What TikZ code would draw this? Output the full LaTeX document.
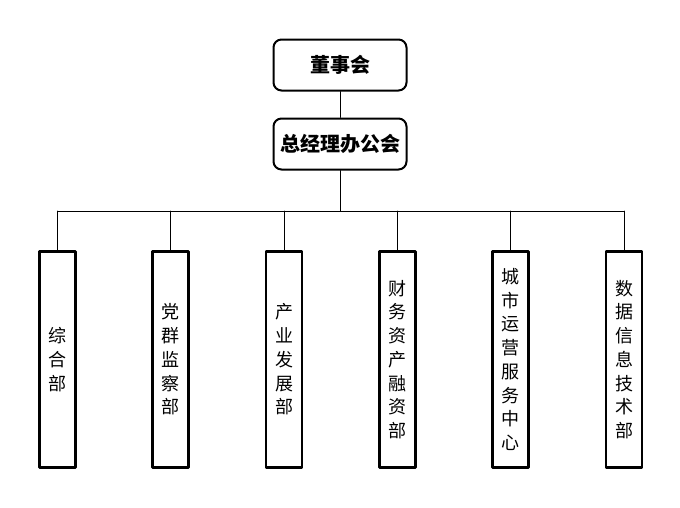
\documentclass[tikz,border=0pt]{standalone}
\usepackage{fontspec}
\setmainfont{Noto Sans CJK SC}
\usetikzlibrary{positioning}

\begin{document}
\begin{tikzpicture}[x=1pt, y=-1pt, line cap=round, line join=round,
	topbox/.style={draw, line width=2pt, rounded corners=8pt, minimum width=133pt, minimum height=51pt, inner sep=0pt, font=\fontsize{20}{24}\selectfont\bfseries},
	deptbox/.style={draw, line width=2.6pt, minimum width=36pt, minimum height=216pt, inner sep=0pt, align=center, font=\fontsize{18}{23.75}\selectfont},
	link/.style={line width=0.9pt}]
	\useasboundingbox (0,0) rectangle (680,507);

	% board and general manager office
	\node[topbox] (board) at (340,65) {董事会};
	\node[topbox] (gm) at (340,144) {总经理办公会};

	% departments
	\node[deptbox] (dep1) at (57.5,359.5) {综\\合\\部};
	\node[deptbox] (dep2) at (170.5,359.5) {党\\群\\监\\察\\部};
	\node[deptbox] (dep3) at (284,359.5) {产\\业\\发\\展\\部};
	\node[deptbox] (dep4) at (397.5,359.5) {财\\务\\资\\产\\融\\资\\部};
	\node[deptbox] (dep5) at (510.5,359.5) {城\\市\\运\\营\\服\\务\\中\\心};
	\node[deptbox] (dep6) at (624,359.5) {数\\据\\信\\息\\技\\术\\部};

	% connectors
	\coordinate (bus) at (340,211);
	\draw[link] (board) -- (gm);
	\draw[link] (gm) -- (bus);
	\draw[link] (dep1.north |- bus) -- (dep6.north |- bus);
	\foreach \d in {dep1,dep2,dep3,dep4,dep5,dep6}
		\draw[link] (\d.north) -- (\d.north |- bus);

\end{tikzpicture}
\end{document}
